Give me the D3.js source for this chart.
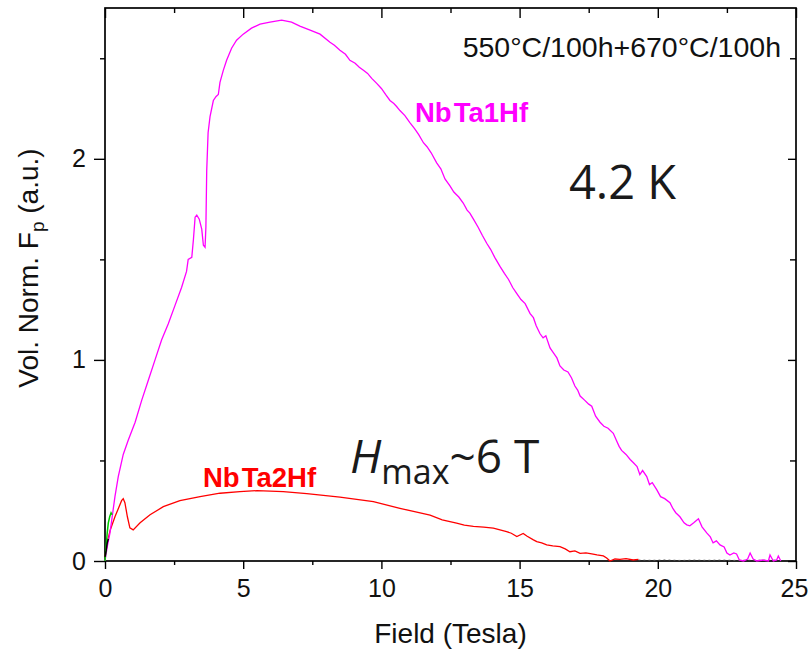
<!DOCTYPE html>
<html>
<head>
<meta charset="utf-8">
<script src="https://cdn.jsdelivr.net/npm/d3@7"></script>
<style>
  body { margin: 0; background: #fff; }
  svg { display: block; }
</style>
</head>
<body>
<svg id="chart" width="808" height="649"></svg>
<script>
// Axis ticks
const xMajorTicks = [0, 5, 10, 15, 20, 25];
const xMinorTicks = [2.5, 7.5, 12.5, 17.5, 22.5];
const yMajorTicks = [0, 1, 2];
const yMinorTicks = [0.5, 1.5, 2.5];

// NbTa1Hf: field (T) and volume-normalised pinning force (a.u.)
const nbta1hfField = [
  0, 0.08, 0.18, 0.28, 0.36, 0.48, 0.66, 0.84, 1.09, 1.33, 1.57, 1.81, 2.05, 2.29, 2.53, 2.77,
  2.95, 3.01, 3.14, 3.20, 3.26, 3.32, 3.41, 3.50, 3.56, 3.62, 3.65, 3.68, 3.73, 3.80, 3.92, 4.02,
  4.10, 4.16, 4.28, 4.40, 4.58, 4.76, 5.00, 5.30, 5.61, 5.97, 6.39, 6.75, 7.05, 7.42, 7.78,
  8.14, 8.30, 8.50, 8.70, 8.86, 9.05, 9.20, 9.35, 9.50, 9.65, 9.83, 10.00, 10.15, 10.31, 10.45,
  10.55, 10.67, 10.85, 11.03, 11.20, 11.35, 11.52, 11.65, 11.80, 12.00, 12.15, 12.30, 12.48,
  12.62, 12.80, 12.96, 13.10, 13.20, 13.33, 13.50, 13.65, 13.81, 13.95, 14.10, 14.29, 14.45,
  14.60, 14.75, 14.90, 15.05, 15.20, 15.38, 15.50, 15.60, 15.74, 15.85, 15.95, 16.10, 16.25,
  16.35, 16.46, 16.60, 16.75, 16.88, 17.00, 17.10, 17.19, 17.35, 17.50, 17.61, 17.75, 17.91,
  18.05, 18.20, 18.39, 18.50, 18.60, 18.69, 18.85, 19.00, 19.11, 19.25, 19.35, 19.45, 19.60,
  19.70, 19.80, 19.96, 20.10, 20.25, 20.44, 20.55, 20.65, 20.80, 20.95, 21.05, 21.16, 21.30,
  21.47, 21.60, 21.77, 21.90, 22.00, 22.12, 22.25, 22.40, 22.50, 22.61, 22.75, 22.85, 22.95,
  23.10, 23.25, 23.34, 23.45, 23.58, 23.80, 24.00, 24.06, 24.18, 24.30, 24.36, 24.45
];
const nbta1hfFp = [
  0, 0.07, 0.14, 0.24, 0.32, 0.42, 0.53, 0.60, 0.69, 0.80, 0.90, 1.00, 1.10, 1.18, 1.27, 1.36,
  1.44, 1.50, 1.51, 1.60, 1.71, 1.72, 1.70, 1.65, 1.57, 1.56, 1.66, 1.94, 2.13, 2.21, 2.29, 2.31,
  2.32, 2.38, 2.44, 2.49, 2.55, 2.59, 2.62, 2.65, 2.67, 2.68, 2.69, 2.68, 2.66, 2.64, 2.62,
  2.58, 2.565, 2.54, 2.52, 2.49, 2.475, 2.455, 2.44, 2.425, 2.40, 2.375, 2.35, 2.32, 2.29, 2.275,
  2.26, 2.24, 2.215, 2.18, 2.15, 2.12, 2.08, 2.06, 2.03, 1.98, 1.95, 1.90, 1.865,
  1.835, 1.81, 1.78, 1.745, 1.73, 1.70, 1.66, 1.62, 1.58, 1.55, 1.51, 1.465, 1.43,
  1.40, 1.36, 1.33, 1.30, 1.28, 1.23, 1.21, 1.17, 1.13, 1.11, 1.12, 1.06, 1.03,
  1.01, 0.97, 0.95, 0.94, 0.91, 0.87, 0.85, 0.82, 0.80, 0.78, 0.77, 0.72, 0.69,
  0.67, 0.66, 0.635, 0.60, 0.57, 0.55, 0.53, 0.505, 0.49, 0.47, 0.43, 0.45, 0.42,
  0.38, 0.39, 0.355, 0.32, 0.31, 0.29, 0.26, 0.24, 0.22, 0.19, 0.18, 0.175, 0.19,
  0.21, 0.17, 0.14, 0.12, 0.09, 0.10, 0.08, 0.07, 0.04, 0.03, 0.04, 0.035, 0.005,
  0.0, 0.01, 0.04, 0.01, 0.0, 0.005, 0.0, 0.03, 0.0, 0.005, 0.025, 0.0
];

// NbTa2Hf
const nbta2hfField = [
  0.00, 0.08, 0.18, 0.36, 0.48, 0.60, 0.66, 0.72, 0.81, 0.90, 1.02, 1.27, 1.63, 2.11, 2.71,
  3.44, 4.16, 4.88, 5.50, 6.45, 7.30, 8.50, 9.71, 10.67, 11.20, 11.76, 12.20, 12.72, 13.00,
  13.33, 13.70, 14.05, 14.29, 14.53, 14.70, 14.90, 15.13, 15.26, 15.50, 15.62, 15.80, 15.98,
  16.20, 16.46, 16.65, 16.82, 17.00, 17.19, 17.40, 17.61, 17.80, 18.03, 18.15, 18.27, 18.45,
  18.63, 18.85, 19.11, 19.30
];
const nbta2hfFp = [
  0.02, 0.09, 0.15, 0.22, 0.26, 0.30, 0.31, 0.29, 0.22, 0.165, 0.155, 0.19, 0.23, 0.27, 0.30,
  0.32, 0.337, 0.345, 0.35, 0.345, 0.335, 0.318, 0.295, 0.262, 0.245, 0.228, 0.205, 0.188, 0.178,
  0.172, 0.168, 0.163, 0.155, 0.146, 0.138, 0.122, 0.137, 0.124, 0.105, 0.096, 0.09, 0.08,
  0.075, 0.071, 0.06, 0.046, 0.05, 0.038, 0.04, 0.035, 0.03, 0.025, 0.015, 0.0, 0.01,
  0.008, 0.012, 0.005, 0.008
];

// Short low-field traces and the faint high-field tail near zero
const greenField = [0.00, 0.04, 0.08, 0.12, 0.17, 0.22, 0.26];
const greenFp = [0.00, 0.07, 0.14, 0.19, 0.22, 0.24, 0.23];
const blackField = [0.00, 0.04, 0.08, 0.12];
const blackFp = [0.02, 0.05, 0.09, 0.11];
const tailField = [19.3, 19.8, 20.3, 20.8, 21.3, 21.8, 22.3, 22.8, 23.3, 23.8, 24.3];
const tailFp = [0.006, 0.004, 0.007, 0.003, 0.006, 0.004, 0.006, 0.003, 0.005, 0.004, 0.006];

const svg = d3.select("#chart");
const plotLeft = 105, plotRight = 796, plotTop = 8, plotBottom = 561;

const x = d3.scaleLinear().domain([0, 25]).range([plotLeft, plotRight]);
const y = d3.scaleLinear().domain([0, 2.75]).range([plotBottom, plotTop]);

const FONT = "'Liberation Sans', Arial, Helvetica, sans-serif";
const SANS = "'Open Sans', 'Noto Sans', sans-serif";

svg.append("rect").attr("width", 808).attr("height", 649).attr("fill", "#fff");

function styleAxis(g, w) {
  g.select(".domain").remove();
  g.selectAll(".tick line").attr("stroke", "#000").attr("stroke-width", w);
}

// bottom: major with labels, minor without (outward)
svg.append("g").attr("transform", `translate(0,${plotBottom})`)
  .call(d3.axisBottom(x).tickValues(xMajorTicks).tickSize(8).tickPadding(10).tickFormat(d3.format("d")))
  .call(g => styleAxis(g, 1.4))
  .call(g => g.selectAll("text").attr("font-family", FONT).attr("font-size", 25).attr("fill", "#111"))
  .call(g => g.selectAll(".tick").filter(d => d === 25).select("text").attr("x", -2));
svg.append("g").attr("transform", `translate(0,${plotBottom})`)
  .call(d3.axisBottom(x).tickValues(xMinorTicks).tickSize(4).tickFormat(""))
  .call(g => styleAxis(g, 1.4));

// left
svg.append("g").attr("transform", `translate(${plotLeft},0)`)
  .call(d3.axisLeft(y).tickValues(yMajorTicks).tickSize(11).tickPadding(8).tickFormat(d3.format("d")))
  .call(g => styleAxis(g, 1.4))
  .call(g => g.selectAll("text").attr("font-family", FONT).attr("font-size", 25).attr("fill", "#111"));
svg.append("g").attr("transform", `translate(${plotLeft},0)`)
  .call(d3.axisLeft(y).tickValues(yMinorTicks).tickSize(5).tickFormat(""))
  .call(g => styleAxis(g, 1.4));

// top (inward)
svg.append("g").attr("transform", `translate(0,${plotTop})`)
  .call(d3.axisTop(x).tickValues(xMajorTicks).tickSize(-10).tickFormat(""))
  .call(g => styleAxis(g, 1.4));
svg.append("g").attr("transform", `translate(0,${plotTop})`)
  .call(d3.axisTop(x).tickValues(xMinorTicks).tickSize(-5).tickFormat(""))
  .call(g => styleAxis(g, 1.4));

// right (inward)
svg.append("g").attr("transform", `translate(${plotRight},0)`)
  .call(d3.axisRight(y).tickValues(yMajorTicks).tickSize(-8).tickFormat(""))
  .call(g => styleAxis(g, 1.4));
svg.append("g").attr("transform", `translate(${plotRight},0)`)
  .call(d3.axisRight(y).tickValues(yMinorTicks).tickSize(-6).tickFormat(""))
  .call(g => styleAxis(g, 1.4));

// frame
svg.append("rect")
  .attr("x", plotLeft).attr("y", plotTop)
  .attr("width", plotRight - plotLeft).attr("height", plotBottom - plotTop)
  .attr("fill", "none").attr("stroke", "#000").attr("stroke-width", 1.7);

const line = d3.line().x(d => x(d[0])).y(d => y(d[1]));
const zip = (a, b) => a.map((v, i) => [v, b[i]]);

svg.append("path").datum(zip(tailField, tailFp)).attr("d", line)
  .attr("fill", "none").attr("stroke", "#777").attr("stroke-width", 1.2)
  .attr("stroke-dasharray", "2,3").attr("opacity", 0.6);
svg.append("path").datum(zip(nbta2hfField, nbta2hfFp)).attr("d", line)
  .attr("fill", "none").attr("stroke", "#ff0000").attr("stroke-width", 1.3);
svg.append("path").datum(zip(nbta1hfField, nbta1hfFp)).attr("d", line)
  .attr("fill", "none").attr("stroke", "#ff00ff").attr("stroke-width", 1.3);
svg.append("path").datum(zip(greenField, greenFp)).attr("d", line)
  .attr("fill", "none").attr("stroke", "#00cc00").attr("stroke-width", 1.5);
svg.append("path").datum(zip(blackField, blackFp)).attr("d", line)
  .attr("fill", "none").attr("stroke", "#000").attr("stroke-width", 1.5);

// axis titles
svg.append("text").attr("x", (plotLeft + plotRight) / 2).attr("y", 643)
  .attr("text-anchor", "middle").attr("font-family", FONT).attr("font-size", 28).attr("fill", "#111")
  .text("Field (Tesla)");

const yTitle = svg.append("text")
  .attr("transform", "translate(38,268) rotate(-90)")
  .attr("text-anchor", "middle").attr("font-family", FONT).attr("font-size", 28).attr("fill", "#111");
yTitle.append("tspan").text("Vol. Norm. F");
yTitle.append("tspan").attr("font-size", 19).attr("dy", 6).text("p");
yTitle.append("tspan").attr("dy", -6).text(" (a.u.)");

// annotations
svg.append("text").attr("x", 781).attr("y", 57).attr("text-anchor", "end")
  .attr("font-family", FONT).attr("font-size", 28.5).attr("fill", "#111")
  .text("550°C/100h+670°C/100h");

const lab1 = svg.append("text").attr("x", 415).attr("y", 122)
  .attr("font-family", FONT).attr("font-weight", "bold").attr("font-size", 27.5).attr("fill", "#ff00ff");
lab1.append("tspan").text("Nb");
lab1.append("tspan").attr("dx", 2).text("Ta1Hf");

const lab2 = svg.append("text").attr("x", 203).attr("y", 487)
  .attr("font-family", FONT).attr("font-weight", "bold").attr("font-size", 27.5).attr("fill", "#ff0000");
lab2.append("tspan").text("Nb");
lab2.append("tspan").attr("dx", 2).text("Ta2Hf");

svg.append("text").attr("x", 569).attr("y", 199)
  .attr("font-family", SANS).attr("font-size", 47).attr("fill", "#1a1a1a")
  .text("4.2 K");

const hmax = svg.append("text").attr("x", 350).attr("y", 473)
  .attr("font-family", SANS).attr("font-size", 46).attr("fill", "#1a1a1a");
hmax.append("tspan").attr("font-style", "italic").text("H");
hmax.append("tspan").attr("font-size", 34).attr("dy", 11).text("max");
hmax.append("tspan").attr("dy", -11).text("~6 T");
</script>
</body>
</html>
